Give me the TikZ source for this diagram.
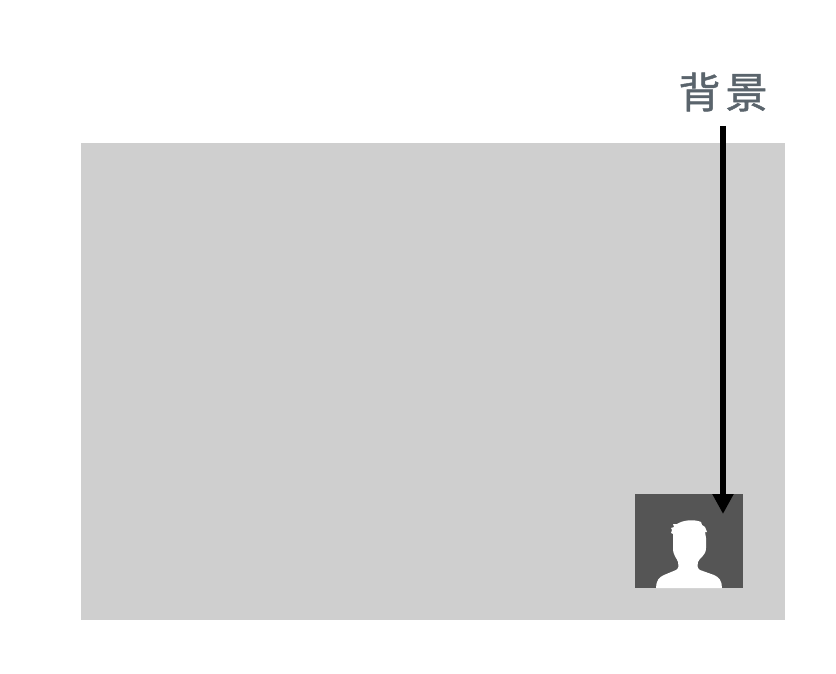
\documentclass[tikz,border=0pt]{standalone}
\usepackage{xcolor}
\usepackage{fontspec}
\usepackage{tikz}
\usetikzlibrary{arrows.meta}
\newfontfamily\cjk[FakeBold=1.2]{Noto Sans CJK SC}
\definecolor{bggray}{HTML}{CFCFCF}
\definecolor{avatargray}{HTML}{555555}
\definecolor{labelgray}{HTML}{5A646C}
\begin{document}
\begin{tikzpicture}[x=1pt,y=-1pt,
    panel/.style={draw=none,inner sep=0pt,outer sep=0pt,anchor=north west},
    pointer/.style={line width=6pt,-{Triangle[length=20pt,width=20pt]}}]
      \useasboundingbox (0,0) rectangle (836,674);
      \node[panel,fill=bggray,minimum width=704pt,minimum height=477pt] (background) at (81,143) {};
      \node[panel,fill=avatargray,minimum width=108pt,minimum height=94pt] (avatar) at (635,494) {};
        % silhouette
      \fill[white] (656,588) .. controls (656,581) and (659,577) .. (664,575)
        -- (676,570) .. controls (679,568) and (679,565) .. (678,562)
        .. controls (677,558) and (673,556) .. (673,548)
        -- (673,534) -- (671,533) -- (672,530) -- (671,528) -- (674,527) -- (673,524) -- (677,524)
        .. controls (683,520) and (694,519) .. (701,522)
        -- (702,525) -- (705,527) -- (707,532) -- (705,532) -- (706,538)
        -- (706,548)
        .. controls (706,556) and (699,558) .. (698,562)
        .. controls (697,565) and (697,568) .. (700,570)
        -- (714,575) .. controls (719,577) and (722,581) .. (722,588) -- cycle;
      \node[font=\cjk\fontsize{42}{42}\selectfont,text=labelgray,inner sep=0pt,outer sep=0pt,
        minimum width=90pt,minimum height=68pt] (label) at (723,92) {背\hspace{5pt}景};
      \coordinate (tip) at (723,514);
      \draw[pointer] (label.south) -- (tip);
    \end{tikzpicture}
\end{document}
